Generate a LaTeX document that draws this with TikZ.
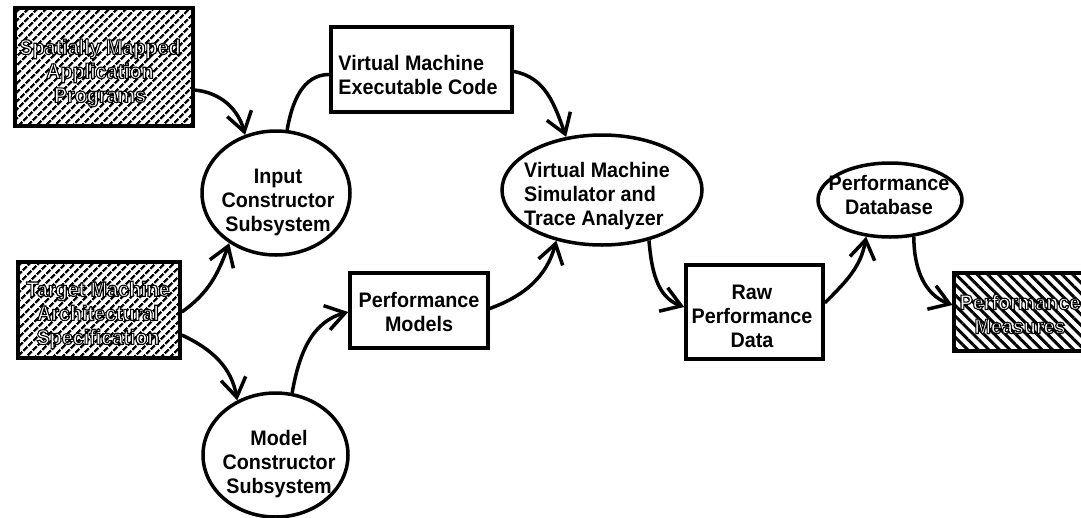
\documentclass[tikz,border=0pt]{standalone}
\usepackage{fontspec}
\setmainfont{Liberation Sans}[FakeStretch=0.94]
\usetikzlibrary{shapes.geometric,arrows.meta,patterns.meta}
\newcommand\outl[1]{\special{pdf:literal direct 1.1 w 0 0 0 RG 2 Tr}#1\special{pdf:literal direct 0 Tr}}
\begin{document}
\begin{tikzpicture}[x=1pt,y=1pt,
  lbl/.style={font=\bfseries\fontsize{21}{24}\selectfont, align=center, inner sep=0pt},
  lbll/.style={lbl, align=left},
  hlbl/.style={lbl, text=white},
  box/.style={draw, line width=3.5pt, inner sep=0pt},
  ell/.style={draw, ellipse, line width=3.5pt, inner sep=0pt},
  hatchA/.style={box, pattern={Lines[angle=45,distance=6.5pt,line width=2.6pt]}},
  hatchB/.style={box, pattern={Lines[angle=-45,distance=7.5pt,line width=3pt]}},
  conn/.style={line width=3.5pt, -{Straight Barb[length=19pt,width=25pt]}},
  plain/.style={line width=3.5pt}
]
\useasboundingbox (0,0) rectangle (1081,-517);
\clip (0,0) rectangle (1081,-517);
% boxes
\node[hatchA, minimum width=178pt, minimum height=118pt] (sam) at (104,-67) {};
\node[hlbl] (samt) at (100,-73) {\outl{Spatially Mapped}\\\outl{Application}\\\outl{Programs}};
\node[hatchA, minimum width=162pt, minimum height=96pt] (tma) at (99,-310) {};
\node[hlbl] (tmat) at (98,-315) {\outl{Target Machine}\\\outl{Architectural}\\\outl{Specification}};
\node[box, minimum width=181pt, minimum height=85pt] (vmec) at (421.5,-69.5) {};
\node[lbll] (vmect) at (418,-75) {Virtual Machine\\Executable Code};
\node[box, minimum width=138pt, minimum height=75pt] (pm) at (419,-310.5) {};
\node[lbl] (pmt) at (419,-312) {Performance\\Models};
\node[box, minimum width=137pt, minimum height=94pt] (raw) at (754.5,-312) {};
\node[lbl] (rawt) at (752,-316) {Raw\\Performance\\Data};
\node[hatchB, minimum width=132pt, minimum height=78pt] (pms) at (1020,-312) {};
\node[hlbl] (pmst) at (1020,-314) {\outl{Performance}\\\outl{Measures}};
% ellipses
\node[ell, minimum width=148pt, minimum height=124pt] (ic) at (276,-193) {};
\node[lbl] (ict) at (278,-202) {Input\\Constructor\\Subsystem};
\node[ell, minimum width=145pt, minimum height=124pt] (mc) at (275.5,-455) {};
\node[lbl] (mct) at (279,-464) {Model\\Constructor\\Subsystem};
\node[ell, minimum width=200pt, minimum height=110pt] (vms) at (602,-190) {};
\node[lbll] (vmst) at (597,-196) {Virtual Machine\\Simulator and\\Trace Analyzer};
\node[ell, minimum width=144pt, minimum height=74pt] (pdb) at (890,-200) {};
\node[lbl] (pdbt) at (889,-195) {Performance\\Database};
% connectors
\draw[conn] ([yshift=-23pt]sam.east) to[out=-5,in=105] (ic.118);
\draw[plain] (ic.80) to[out=80,in=180] ([yshift=-5pt]vmec.west);
\draw[conn] ([yshift=-2pt]vmec.east) to[out=-10,in=110] (vms.124);
\draw[conn] ([yshift=-2pt]tma.east) to[out=35,in=250] (ic.227);
\draw[conn] ([yshift=-25pt]tma.east) to[out=-25,in=100] (mc.125);
\draw[conn] (mc.75) to[out=80,in=195] ([yshift=-1.5pt]pm.west);
\draw[conn] ([yshift=2pt]pm.east) to[out=20,in=255] (vms.228);
\draw[conn] (vms.313) to[out=-85,in=160] ([yshift=5pt]raw.west);
\draw[conn] ([yshift=9pt]raw.east) to[out=45,in=260] (pdb.237);
\draw[conn] (pdb.303) to[out=-90,in=160] ([yshift=7pt]pms.west);
\end{tikzpicture}
\end{document}
